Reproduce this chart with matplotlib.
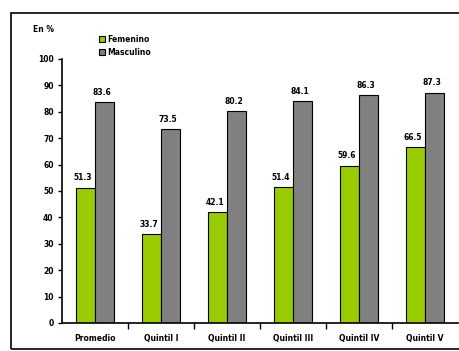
import matplotlib.pyplot as plt
import numpy as np
from matplotlib.patches import Rectangle

categorias = ["Promedio", "Quintil I", "Quintil II", "Quintil III", "Quintil IV", "Quintil V"]
femenino = [51.3, 33.7, 42.1, 51.4, 59.6, 66.5]
masculino = [83.6, 73.5, 80.2, 84.1, 86.3, 87.3]
yticks = [0, 10, 20, 30, 40, 50, 60, 70, 80, 90, 100]

fig = plt.figure(figsize=(4.59, 3.51), dpi=100)
W, H = 459, 351

# marco exterior del grafico
fig.patches.append(Rectangle((11 / W, 1 - 349 / H), 460 / W, (349 - 13) / H,
                             transform=fig.transFigure, fill=False,
                             edgecolor="black", linewidth=1.2))

ax = fig.add_axes([62 / W, 1 - 323 / H, (458 - 62) / W, (323 - 59) / H])

x = np.arange(len(categorias))
w = 0.29
b1 = ax.bar(x - w / 2, femenino, w, color="#99CC00", edgecolor="black", linewidth=0.8, label="Femenino")
b2 = ax.bar(x + w / 2, masculino, w, color="#808080", edgecolor="black", linewidth=0.8, label="Masculino")

for rect, v in zip(b1, femenino):
    ax.text(rect.get_x() + rect.get_width() / 2 - 0.04, v + 2, f"{v:.1f}",
            ha="center", va="bottom", fontsize=5.5, fontweight="bold")
for rect, v in zip(b2, masculino):
    ax.text(rect.get_x() + rect.get_width() / 2 - 0.04, v + 2, f"{v:.1f}",
            ha="center", va="bottom", fontsize=5.5, fontweight="bold")

ax.set_xlim(-0.5, len(categorias) - 0.5)
ax.set_ylim(0, 100)
ax.set_yticks(yticks)
ax.set_yticklabels([str(t) for t in yticks], fontsize=5.5, fontweight="bold")
ax.set_xticks(x)
ax.set_xticklabels(categorias, fontsize=5.5, fontweight="bold")
ax.set_xticks(np.arange(len(categorias) - 1) + 0.5, minor=True)
ax.tick_params(axis="x", which="major", length=0, pad=8)
ax.tick_params(axis="x", which="minor", length=4, width=1, direction="out")
ax.tick_params(axis="y", length=3, width=1, direction="out", pad=3)

for s in ["top", "right"]:
    ax.spines[s].set_visible(False)
ax.spines["left"].set_linewidth(1.2)
ax.spines["bottom"].set_linewidth(1.2)

fig.text(33 / W, 1 - 30 / H, "En %", fontsize=5.5, fontweight="bold", va="center")
ax.legend(loc="upper left", bbox_to_anchor=(95 / W, 1 - 31 / H), bbox_transform=fig.transFigure,
          frameon=False, prop={"size": 5.5, "weight": "bold"}, handlelength=0.8, handleheight=0.9,
          handletextpad=0.3, labelspacing=0.5, borderpad=0)

fig.savefig("out.png", dpi=100)
